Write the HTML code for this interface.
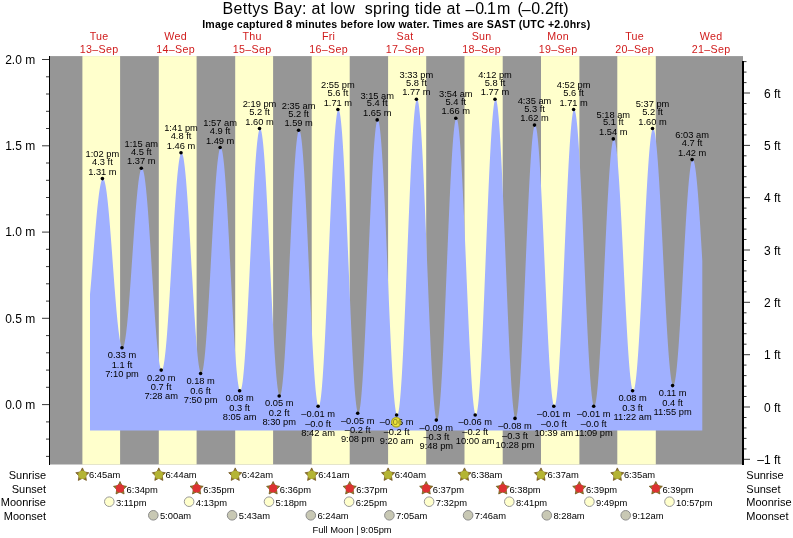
<!DOCTYPE html>
<html><head><meta charset="utf-8"><title>Bettys Bay tide times</title>
<style>html,body{margin:0;padding:0;background:#fff}svg text{white-space:pre}</style></head>
<body>
<svg width="793" height="538" viewBox="0 0 793 538" style="display:block">
<rect width="793" height="538" fill="#fff"/>
<rect x="50" y="56.1" width="693" height="408.4" fill="#969696"/>
<rect x="82.4" y="56.1" width="37.7" height="408.4" fill="#ffffcc"/>
<rect x="158.8" y="56.1" width="37.8" height="408.4" fill="#ffffcc"/>
<rect x="235.2" y="56.1" width="37.9" height="408.4" fill="#ffffcc"/>
<rect x="311.7" y="56.1" width="38.0" height="408.4" fill="#ffffcc"/>
<rect x="388.1" y="56.1" width="38.1" height="408.4" fill="#ffffcc"/>
<rect x="464.5" y="56.1" width="38.2" height="408.4" fill="#ffffcc"/>
<rect x="541.0" y="56.1" width="38.4" height="408.4" fill="#ffffcc"/>
<rect x="617.3" y="56.1" width="38.5" height="408.4" fill="#ffffcc"/>
<path d="M90.0,430.5 L90.0,294.3 90.5,288.7 91.0,282.9 91.5,276.9 92.0,270.8 92.5,264.6 93.0,258.3 93.5,252.1 94.0,245.9 94.5,239.8 95.0,233.7 95.5,227.9 96.0,222.2 96.5,216.7 97.0,211.5 97.5,206.6 98.0,202.0 98.5,197.7 99.0,193.8 99.5,190.3 100.0,187.3 100.5,184.6 101.0,182.5 101.5,180.8 102.0,179.5 102.5,178.8 103.0,178.6 103.5,178.8 104.0,179.7 104.5,181.0 105.0,182.9 105.5,185.3 106.0,188.2 106.5,191.6 107.0,195.5 107.5,199.8 108.0,204.5 108.5,209.5 109.0,215.0 109.5,220.7 110.0,226.7 110.5,233.0 111.0,239.4 111.5,246.0 112.0,252.7 112.5,259.5 113.0,266.3 113.5,273.0 114.0,279.8 114.5,286.4 115.0,292.8 115.5,299.1 116.0,305.1 116.5,310.9 117.0,316.3 117.5,321.4 118.0,326.1 118.5,330.5 119.0,334.3 119.5,337.8 120.0,340.7 120.5,343.2 121.0,345.1 121.5,346.5 122.0,347.3 122.5,347.7 123.0,347.4 123.5,346.6 124.0,345.2 124.5,343.2 125.0,340.6 125.5,337.5 126.0,333.9 126.5,329.8 127.0,325.2 127.5,320.2 128.0,314.7 128.5,308.9 129.0,302.8 129.5,296.3 130.0,289.6 130.5,282.7 131.0,275.7 131.5,268.5 132.0,261.3 132.5,254.0 133.0,246.7 133.5,239.6 134.0,232.5 134.5,225.6 135.0,219.0 135.5,212.5 136.0,206.4 136.5,200.7 137.0,195.2 137.5,190.3 138.0,185.7 138.5,181.6 139.0,178.1 139.5,175.0 140.0,172.5 140.5,170.6 141.0,169.2 141.5,168.4 142.0,168.2 142.5,168.6 143.0,169.7 143.5,171.4 144.0,173.7 144.5,176.5 145.0,180.0 145.5,184.1 146.0,188.6 146.5,193.7 147.0,199.3 147.5,205.2 148.0,211.6 148.5,218.4 149.0,225.5 149.5,232.8 150.0,240.4 150.5,248.1 151.0,256.0 151.5,264.0 152.0,272.0 152.5,280.0 153.0,287.9 153.5,295.7 154.0,303.3 154.5,310.8 155.0,317.9 155.5,324.8 156.0,331.3 156.5,337.4 157.0,343.0 157.5,348.3 158.0,353.0 158.5,357.2 159.0,360.8 159.5,363.9 160.0,366.3 160.5,368.2 161.0,369.4 161.5,370.0 162.0,370.0 162.5,369.3 163.0,367.9 163.5,365.8 164.0,363.1 164.5,359.7 165.0,355.7 165.5,351.2 166.0,346.0 166.5,340.4 167.0,334.2 167.5,327.6 168.0,320.5 168.5,313.1 169.0,305.4 169.5,297.4 170.0,289.1 170.5,280.7 171.0,272.2 171.5,263.6 172.0,255.0 172.5,246.4 173.0,237.9 173.5,229.6 174.0,221.4 174.5,213.6 175.0,206.0 175.5,198.7 176.0,191.9 176.5,185.5 177.0,179.6 177.5,174.1 178.0,169.3 178.5,165.0 179.0,161.3 179.5,158.3 180.0,155.9 180.5,154.1 181.0,153.1 181.5,152.7 182.0,153.0 182.5,154.0 183.0,155.7 183.5,158.1 184.0,161.2 184.5,165.0 185.0,169.3 185.5,174.3 186.0,179.8 186.5,185.9 187.0,192.5 187.5,199.5 188.0,206.9 188.5,214.7 189.0,222.8 189.5,231.2 190.0,239.8 190.5,248.5 191.0,257.3 191.5,266.2 192.1,275.0 192.6,283.7 193.1,292.4 193.6,300.8 194.1,309.0 194.6,316.9 195.1,324.4 195.6,331.6 196.1,338.3 196.6,344.6 197.1,350.3 197.6,355.4 198.1,360.0 198.6,363.9 199.1,367.2 199.6,369.8 200.1,371.8 200.6,373.0 201.1,373.5 201.6,373.3 202.1,372.4 202.6,370.8 203.1,368.4 203.6,365.4 204.1,361.6 204.6,357.2 205.1,352.2 205.6,346.6 206.1,340.4 206.6,333.7 207.1,326.5 207.6,318.9 208.1,310.9 208.6,302.6 209.1,294.0 209.6,285.2 210.1,276.3 210.6,267.2 211.1,258.1 211.6,249.0 212.1,240.0 212.6,231.1 213.1,222.4 213.6,214.0 214.1,205.8 214.6,198.1 215.1,190.7 215.6,183.8 216.1,177.3 216.6,171.4 217.1,166.1 217.6,161.4 218.1,157.4 218.6,154.0 219.1,151.3 219.6,149.3 220.1,148.0 220.6,147.5 221.1,147.7 221.6,148.7 222.1,150.5 222.6,153.1 223.1,156.4 223.6,160.4 224.1,165.1 224.6,170.5 225.1,176.5 225.6,183.2 226.1,190.4 226.6,198.1 227.1,206.2 227.6,214.8 228.1,223.7 228.6,232.9 229.1,242.3 229.6,252.0 230.1,261.7 230.6,271.5 231.1,281.2 231.6,290.9 232.1,300.4 232.6,309.8 233.1,318.9 233.6,327.6 234.1,336.0 234.6,343.9 235.1,351.4 235.6,358.3 236.1,364.7 236.6,370.4 237.1,375.5 237.6,379.9 238.1,383.6 238.6,386.5 239.1,388.7 239.6,390.1 240.1,390.8 240.6,390.6 241.1,389.6 241.6,387.8 242.1,385.2 242.6,381.9 243.1,377.7 243.6,372.8 244.1,367.2 244.6,361.0 245.1,354.1 245.6,346.6 246.1,338.6 246.6,330.0 247.1,321.1 247.6,311.7 248.1,302.1 248.6,292.1 249.1,282.0 249.6,271.7 250.1,261.3 250.6,251.0 251.1,240.7 251.6,230.5 252.1,220.5 252.6,210.7 253.1,201.2 253.6,192.1 254.1,183.5 254.6,175.3 255.1,167.6 255.6,160.5 256.1,154.0 256.6,148.2 257.1,143.1 257.6,138.7 258.1,135.1 258.6,132.2 259.1,130.2 259.6,128.9 260.1,128.5 260.6,128.9 261.1,130.2 261.6,132.3 262.1,135.2 262.6,138.9 263.1,143.4 263.6,148.7 264.1,154.7 264.6,161.3 265.1,168.7 265.6,176.6 266.1,185.0 266.6,194.0 267.1,203.3 267.6,213.1 268.1,223.1 268.6,233.5 269.1,243.9 269.6,254.6 270.1,265.2 270.6,275.9 271.1,286.4 271.6,296.8 272.1,307.0 272.6,316.9 273.1,326.4 273.6,335.6 274.1,344.2 274.6,352.4 275.1,360.0 275.6,366.9 276.1,373.2 276.6,378.8 277.1,383.7 277.6,387.7 278.1,391.0 278.6,393.5 279.1,395.1 279.6,395.9 280.1,395.8 280.6,394.9 281.1,393.1 281.6,390.4 282.1,386.9 282.6,382.6 283.1,377.5 283.6,371.7 284.1,365.1 284.6,357.9 285.1,350.1 285.6,341.6 286.1,332.7 286.6,323.3 287.1,313.5 287.6,303.4 288.1,293.0 288.6,282.5 289.1,271.7 289.6,261.0 290.1,250.2 290.6,239.6 291.1,229.1 291.6,218.8 292.1,208.8 292.6,199.1 293.1,189.9 293.6,181.2 294.1,173.0 294.6,165.4 295.1,158.4 295.6,152.1 296.1,146.6 296.6,141.8 297.1,137.8 297.6,134.6 298.1,132.3 298.6,130.9 299.1,130.3 299.6,130.5 300.1,131.7 300.6,133.8 301.1,136.7 301.6,140.5 302.1,145.1 302.6,150.6 303.1,156.7 303.6,163.7 304.1,171.2 304.6,179.5 305.1,188.3 305.6,197.6 306.1,207.4 306.6,217.5 307.1,228.0 307.6,238.8 308.1,249.7 308.6,260.8 309.1,271.9 309.6,283.0 310.1,294.0 310.6,304.9 311.1,315.5 311.6,325.8 312.1,335.7 312.6,345.2 313.1,354.2 313.6,362.6 314.1,370.4 314.6,377.5 315.1,384.0 315.6,389.7 316.1,394.6 316.6,398.6 317.1,401.9 317.6,404.2 318.1,405.7 318.6,406.3 319.1,406.0 319.6,404.7 320.1,402.6 320.6,399.5 321.1,395.5 321.6,390.7 322.1,385.0 322.6,378.5 323.1,371.3 323.6,363.4 324.1,354.8 324.6,345.6 325.1,335.8 325.6,325.5 326.1,314.9 326.6,303.8 327.1,292.5 327.6,281.0 328.1,269.3 328.6,257.5 329.1,245.8 329.6,234.1 330.1,222.5 330.6,211.2 331.1,200.2 331.6,189.6 332.1,179.4 332.6,169.6 333.1,160.5 333.6,151.9 334.1,144.0 334.6,136.8 335.1,130.4 335.6,124.8 336.1,120.0 336.6,116.1 337.1,113.1 337.6,111.0 338.1,109.8 338.6,109.6 339.1,110.3 339.6,111.9 340.1,114.5 340.6,118.0 341.1,122.4 341.6,127.7 342.1,133.8 342.6,140.8 343.1,148.4 343.6,156.8 344.1,165.9 344.6,175.5 345.1,185.7 345.6,196.4 346.1,207.5 346.6,218.9 347.1,230.6 347.6,242.5 348.1,254.4 348.6,266.5 349.1,278.5 349.6,290.4 350.1,302.1 350.6,313.6 351.1,324.7 351.6,335.4 352.1,345.7 352.6,355.4 353.1,364.6 353.6,373.1 354.1,380.9 354.6,387.9 355.1,394.2 355.6,399.6 356.1,404.1 356.6,407.8 357.1,410.5 357.6,412.3 358.1,413.2 358.6,413.0 359.1,412.0 359.6,410.0 360.1,407.0 360.6,403.2 361.1,398.4 361.6,392.8 362.1,386.4 362.6,379.2 363.1,371.3 363.6,362.7 364.1,353.5 364.6,343.7 365.1,333.4 365.6,322.7 366.1,311.6 366.6,300.2 367.1,288.6 367.6,276.8 368.1,265.0 368.6,253.2 369.1,241.5 369.6,229.9 370.1,218.6 370.6,207.6 371.1,197.0 371.6,186.8 372.1,177.2 372.6,168.1 373.1,159.7 373.6,151.9 374.1,144.9 374.6,138.7 375.1,133.4 375.6,128.8 376.1,125.2 376.6,122.5 377.1,120.8 377.6,120.0 378.1,120.1 378.6,121.2 379.1,123.3 379.6,126.3 380.1,130.2 380.6,135.1 381.1,140.8 381.6,147.3 382.1,154.6 382.6,162.7 383.1,171.5 383.6,180.8 384.1,190.8 384.6,201.3 385.1,212.2 385.6,223.4 386.1,235.0 386.6,246.7 387.1,258.6 387.6,270.6 388.1,282.5 388.6,294.3 389.1,306.0 389.6,317.4 390.1,328.5 390.6,339.1 391.1,349.3 391.6,359.0 392.1,368.1 392.6,376.5 393.1,384.1 393.6,391.1 394.1,397.2 394.6,402.4 395.1,406.8 395.6,410.3 396.1,412.8 396.7,414.3 397.2,414.9 397.7,414.6 398.2,413.2 398.7,410.8 399.2,407.5 399.7,403.3 400.2,398.1 400.7,392.0 401.2,385.1 401.7,377.4 402.2,368.9 402.7,359.7 403.2,349.9 403.7,339.5 404.2,328.6 404.7,317.2 405.2,305.4 405.7,293.4 406.2,281.1 406.7,268.6 407.2,256.1 407.7,243.6 408.2,231.2 408.7,218.9 409.2,206.9 409.7,195.2 410.2,183.9 410.7,173.1 411.2,162.7 411.7,153.0 412.2,143.9 412.7,135.5 413.2,127.9 413.7,121.2 414.2,115.2 414.7,110.2 415.2,106.0 415.7,102.9 416.2,100.7 416.7,99.5 417.2,99.2 417.7,100.0 418.2,101.8 418.7,104.5 419.2,108.2 419.7,112.9 420.2,118.4 420.7,124.9 421.2,132.1 421.7,140.2 422.2,149.0 422.7,158.5 423.2,168.7 423.7,179.4 424.2,190.6 424.7,202.2 425.2,214.2 425.7,226.4 426.2,238.9 426.7,251.5 427.2,264.2 427.7,276.8 428.2,289.3 428.7,301.7 429.2,313.7 429.7,325.5 430.2,336.8 430.7,347.7 431.2,358.0 431.7,367.6 432.2,376.7 432.7,385.0 433.2,392.5 433.7,399.1 434.2,405.0 434.7,409.9 435.2,413.9 435.7,416.9 436.2,418.9 436.7,420.0 437.2,420.0 437.7,419.1 438.2,417.2 438.7,414.3 439.2,410.5 439.7,405.7 440.2,400.1 440.7,393.6 441.2,386.3 441.7,378.2 442.2,369.4 442.7,360.0 443.2,350.0 443.7,339.4 444.2,328.4 444.7,317.0 445.2,305.3 445.7,293.3 446.2,281.2 446.7,269.0 447.2,256.8 447.7,244.7 448.2,232.8 448.7,221.1 449.2,209.7 449.7,198.6 450.2,188.1 450.7,178.1 451.2,168.7 451.7,159.9 452.2,151.8 452.7,144.5 453.2,138.1 453.7,132.4 454.2,127.7 454.7,123.9 455.2,121.1 455.7,119.2 456.2,118.3 456.7,118.3 457.2,119.4 457.7,121.4 458.2,124.3 458.7,128.2 459.2,133.0 459.7,138.6 460.2,145.1 460.7,152.4 461.2,160.4 461.7,169.2 462.2,178.5 462.7,188.5 463.2,198.9 463.7,209.8 464.2,221.0 464.7,232.6 465.2,244.4 465.7,256.3 466.2,268.3 466.7,280.2 467.2,292.1 467.7,303.8 468.2,315.3 468.7,326.5 469.2,337.2 469.7,347.5 470.2,357.3 470.7,366.5 471.2,375.0 471.7,382.9 472.2,389.9 472.7,396.2 473.2,401.6 473.7,406.1 474.2,409.7 474.7,412.4 475.2,414.1 475.7,414.9 476.2,414.7 476.7,413.5 477.2,411.3 477.7,408.1 478.2,404.0 478.7,399.0 479.2,393.0 479.7,386.2 480.2,378.6 480.7,370.2 481.2,361.1 481.7,351.3 482.2,341.0 482.7,330.1 483.2,318.7 483.7,307.0 484.2,294.9 484.7,282.6 485.2,270.2 485.7,257.6 486.2,245.1 486.7,232.6 487.2,220.3 487.7,208.2 488.2,196.5 488.7,185.1 489.2,174.1 489.7,163.7 490.2,153.9 490.7,144.7 491.2,136.3 491.7,128.6 492.2,121.7 492.7,115.7 493.2,110.5 493.7,106.3 494.2,103.1 494.7,100.8 495.2,99.5 495.7,99.2 496.2,99.9 496.7,101.6 497.2,104.2 497.7,107.8 498.2,112.4 498.7,117.8 499.2,124.1 499.7,131.3 500.2,139.2 500.7,147.9 501.2,157.3 501.7,167.3 502.2,177.8 502.7,188.9 503.2,200.4 503.7,212.2 504.2,224.4 504.7,236.7 505.2,249.2 505.7,261.8 506.2,274.3 506.7,286.7 507.2,299.0 507.7,311.0 508.2,322.7 508.7,334.0 509.2,344.8 509.7,355.1 510.2,364.8 510.7,373.9 511.2,382.2 511.7,389.8 512.2,396.6 512.7,402.5 513.2,407.5 513.7,411.6 514.2,414.7 514.7,416.9 515.2,418.1 515.7,418.4 516.2,417.6 516.7,416.0 517.2,413.3 517.7,409.8 518.2,405.4 518.7,400.1 519.2,393.9 519.7,387.0 520.2,379.3 520.7,370.9 521.2,361.9 521.7,352.3 522.2,342.2 522.7,331.6 523.2,320.6 523.7,309.3 524.2,297.8 524.7,286.1 525.2,274.3 525.7,262.5 526.2,250.7 526.7,239.1 527.2,227.7 527.7,216.6 528.2,205.8 528.7,195.5 529.2,185.6 529.7,176.3 530.2,167.7 530.7,159.7 531.2,152.4 531.7,146.0 532.2,140.3 532.7,135.5 533.2,131.6 533.7,128.5 534.2,126.4 534.7,125.3 535.2,125.1 535.7,125.8 536.2,127.5 536.7,130.1 537.2,133.6 537.7,137.9 538.2,143.1 538.7,149.1 539.2,155.8 539.7,163.3 540.2,171.5 540.7,180.3 541.2,189.6 541.7,199.5 542.2,209.8 542.7,220.5 543.2,231.4 543.7,242.6 544.2,253.9 544.7,265.3 545.2,276.8 545.7,288.1 546.2,299.3 546.7,310.3 547.2,321.0 547.7,331.3 548.2,341.2 548.7,350.5 549.2,359.4 549.7,367.6 550.2,375.1 550.7,381.9 551.2,388.0 551.7,393.2 552.2,397.6 552.7,401.1 553.2,403.7 553.7,405.5 554.2,406.3 554.7,406.1 555.2,405.1 555.7,403.1 556.2,400.2 556.7,396.4 557.2,391.7 557.7,386.2 558.2,379.9 558.7,372.8 559.2,365.0 559.7,356.5 560.2,347.4 560.7,337.8 561.2,327.6 561.7,317.0 562.2,306.1 562.7,294.8 563.2,283.3 563.7,271.6 564.2,259.9 564.7,248.1 565.2,236.4 565.7,224.8 566.2,213.5 566.7,202.4 567.2,191.7 567.7,181.4 568.2,171.5 568.7,162.3 569.2,153.6 569.7,145.5 570.2,138.2 570.7,131.6 571.2,125.9 571.7,120.9 572.2,116.8 572.7,113.6 573.2,111.3 573.7,110.0 574.2,109.5 574.7,110.0 575.2,111.4 575.7,113.7 576.2,116.9 576.7,120.9 577.2,125.8 577.7,131.5 578.2,138.0 578.7,145.3 579.2,153.2 579.7,161.7 580.2,170.9 580.7,180.6 581.2,190.7 581.7,201.3 582.2,212.2 582.7,223.4 583.2,234.9 583.7,246.4 584.2,258.1 584.7,269.7 585.2,281.3 585.7,292.7 586.2,303.9 586.7,314.8 587.2,325.4 587.7,335.5 588.2,345.2 588.7,354.3 589.2,362.9 589.7,370.8 590.2,378.0 590.7,384.5 591.2,390.1 591.7,395.0 592.2,399.1 592.7,402.2 593.2,404.5 593.7,405.9 594.2,406.3 594.7,405.9 595.2,404.6 595.7,402.5 596.2,399.5 596.7,395.8 597.2,391.2 597.7,385.9 598.2,379.8 598.7,373.1 599.2,365.7 599.7,357.7 600.2,349.1 600.8,340.1 601.3,330.6 601.8,320.8 602.3,310.7 602.8,300.3 603.3,289.7 603.8,279.0 604.3,268.3 604.8,257.6 605.3,247.0 605.8,236.6 606.3,226.4 606.8,216.5 607.3,207.0 607.8,197.8 608.3,189.2 608.8,181.1 609.3,173.6 609.8,166.7 610.3,160.5 610.8,155.0 611.3,150.3 611.8,146.4 612.3,143.2 612.8,140.9 613.3,139.5 613.8,138.9 614.3,139.1 614.8,140.2 615.3,142.1 615.8,144.9 616.3,148.4 616.8,152.6 617.3,157.7 617.8,163.4 618.3,169.8 618.8,176.8 619.3,184.4 619.8,192.5 620.3,201.2 620.8,210.2 621.3,219.6 621.8,229.3 622.3,239.2 622.8,249.3 623.3,259.5 623.8,269.7 624.3,279.9 624.8,290.0 625.3,300.0 625.8,309.7 626.3,319.1 626.8,328.1 627.3,336.8 627.8,344.9 628.3,352.5 628.8,359.6 629.3,366.0 629.8,371.8 630.3,376.8 630.8,381.1 631.3,384.7 631.8,387.4 632.3,389.4 632.8,390.5 633.3,390.8 633.8,390.3 634.3,388.9 634.8,386.8 635.3,383.8 635.8,380.1 636.3,375.7 636.8,370.5 637.3,364.6 637.8,358.1 638.3,351.0 638.8,343.3 639.3,335.0 639.8,326.3 640.3,317.2 640.8,307.8 641.3,298.0 641.8,288.0 642.3,277.8 642.8,267.5 643.3,257.2 643.8,246.9 644.3,236.6 644.8,226.5 645.3,216.6 645.8,207.0 646.3,197.7 646.8,188.8 647.3,180.3 647.8,172.3 648.3,164.9 648.8,158.0 649.3,151.8 649.8,146.3 650.3,141.4 650.8,137.3 651.3,134.0 651.8,131.4 652.3,129.7 652.8,128.7 653.3,128.6 653.8,129.2 654.3,130.6 654.8,132.8 655.3,135.8 655.8,139.5 656.3,144.0 656.8,149.1 657.3,154.9 657.8,161.3 658.3,168.3 658.8,175.8 659.3,183.8 659.8,192.3 660.3,201.2 660.8,210.4 661.3,219.9 661.8,229.7 662.3,239.6 662.8,249.6 663.3,259.6 663.8,269.7 664.3,279.6 664.8,289.5 665.3,299.1 665.8,308.5 666.3,317.5 666.8,326.2 667.3,334.5 667.8,342.2 668.3,349.5 668.8,356.2 669.3,362.3 669.8,367.8 670.3,372.5 670.8,376.6 671.3,379.9 671.8,382.5 672.3,384.3 672.8,385.4 673.3,385.6 673.8,385.1 674.3,383.9 674.8,381.9 675.3,379.3 675.8,376.0 676.3,371.9 676.8,367.3 677.3,362.0 677.8,356.2 678.3,349.8 678.8,342.9 679.3,335.6 679.8,327.9 680.3,319.8 680.8,311.4 681.3,302.7 681.8,293.9 682.3,284.9 682.8,275.8 683.3,266.8 683.8,257.7 684.3,248.8 684.8,240.0 685.3,231.4 685.8,223.1 686.3,215.1 686.8,207.5 687.3,200.2 687.8,193.5 688.3,187.3 688.8,181.6 689.3,176.5 689.8,172.0 690.3,168.2 690.8,165.1 691.3,162.6 691.8,160.9 692.3,159.9 692.8,159.6 693.3,160.0 693.8,161.1 694.3,162.8 694.8,165.2 695.3,168.2 695.8,171.8 696.3,176.1 696.8,180.9 697.3,186.2 697.8,192.1 698.3,198.4 698.8,205.2 699.3,212.3 699.8,219.8 700.3,227.6 700.8,235.7 701.3,243.9 701.8,252.3 702.3,260.8 L702.3,430.5 Z" fill="#a0b0ff"/>
<g stroke="#000" stroke-width="1" fill="none" shape-rendering="crispEdges">
<line x1="49.5" y1="56.1" x2="49.5" y2="464.5" stroke-width="1.4"/>
<line x1="743" y1="61" x2="743" y2="464.5" stroke-width="2"/>
</g>
<g stroke="#222" stroke-width="0.9" fill="none">
<line x1="46.0" y1="456.4" x2="49" y2="456.4"/>
<line x1="46.0" y1="439.1" x2="49" y2="439.1"/>
<line x1="46.0" y1="421.9" x2="49" y2="421.9"/>
<line x1="42.0" y1="404.6" x2="49" y2="404.6"/>
<line x1="46.0" y1="387.3" x2="49" y2="387.3"/>
<line x1="46.0" y1="370.1" x2="49" y2="370.1"/>
<line x1="46.0" y1="352.8" x2="49" y2="352.8"/>
<line x1="46.0" y1="335.6" x2="49" y2="335.6"/>
<line x1="42.0" y1="318.3" x2="49" y2="318.3"/>
<line x1="46.0" y1="301.1" x2="49" y2="301.1"/>
<line x1="46.0" y1="283.8" x2="49" y2="283.8"/>
<line x1="46.0" y1="266.6" x2="49" y2="266.6"/>
<line x1="46.0" y1="249.3" x2="49" y2="249.3"/>
<line x1="42.0" y1="232.1" x2="49" y2="232.1"/>
<line x1="46.0" y1="214.8" x2="49" y2="214.8"/>
<line x1="46.0" y1="197.5" x2="49" y2="197.5"/>
<line x1="46.0" y1="180.3" x2="49" y2="180.3"/>
<line x1="46.0" y1="163.0" x2="49" y2="163.0"/>
<line x1="42.0" y1="145.8" x2="49" y2="145.8"/>
<line x1="46.0" y1="128.5" x2="49" y2="128.5"/>
<line x1="46.0" y1="111.3" x2="49" y2="111.3"/>
<line x1="46.0" y1="94.0" x2="49" y2="94.0"/>
<line x1="46.0" y1="76.8" x2="49" y2="76.8"/>
<line x1="42.0" y1="59.5" x2="49" y2="59.5"/>
<line x1="744" y1="459.3" x2="750.0" y2="459.3"/>
<line x1="744" y1="448.9" x2="746.5" y2="448.9"/>
<line x1="744" y1="438.4" x2="746.5" y2="438.4"/>
<line x1="744" y1="427.9" x2="746.5" y2="427.9"/>
<line x1="744" y1="417.5" x2="746.5" y2="417.5"/>
<line x1="744" y1="407.0" x2="750.0" y2="407.0"/>
<line x1="744" y1="396.5" x2="746.5" y2="396.5"/>
<line x1="744" y1="386.1" x2="746.5" y2="386.1"/>
<line x1="744" y1="375.6" x2="746.5" y2="375.6"/>
<line x1="744" y1="365.1" x2="746.5" y2="365.1"/>
<line x1="744" y1="354.7" x2="750.0" y2="354.7"/>
<line x1="744" y1="344.2" x2="746.5" y2="344.2"/>
<line x1="744" y1="333.7" x2="746.5" y2="333.7"/>
<line x1="744" y1="323.3" x2="746.5" y2="323.3"/>
<line x1="744" y1="312.8" x2="746.5" y2="312.8"/>
<line x1="744" y1="302.3" x2="750.0" y2="302.3"/>
<line x1="744" y1="291.9" x2="746.5" y2="291.9"/>
<line x1="744" y1="281.4" x2="746.5" y2="281.4"/>
<line x1="744" y1="270.9" x2="746.5" y2="270.9"/>
<line x1="744" y1="260.5" x2="746.5" y2="260.5"/>
<line x1="744" y1="250.0" x2="750.0" y2="250.0"/>
<line x1="744" y1="239.5" x2="746.5" y2="239.5"/>
<line x1="744" y1="229.1" x2="746.5" y2="229.1"/>
<line x1="744" y1="218.6" x2="746.5" y2="218.6"/>
<line x1="744" y1="208.1" x2="746.5" y2="208.1"/>
<line x1="744" y1="197.7" x2="750.0" y2="197.7"/>
<line x1="744" y1="187.2" x2="746.5" y2="187.2"/>
<line x1="744" y1="176.7" x2="746.5" y2="176.7"/>
<line x1="744" y1="166.3" x2="746.5" y2="166.3"/>
<line x1="744" y1="155.8" x2="746.5" y2="155.8"/>
<line x1="744" y1="145.4" x2="750.0" y2="145.4"/>
<line x1="744" y1="134.9" x2="746.5" y2="134.9"/>
<line x1="744" y1="124.4" x2="746.5" y2="124.4"/>
<line x1="744" y1="114.0" x2="746.5" y2="114.0"/>
<line x1="744" y1="103.5" x2="746.5" y2="103.5"/>
<line x1="744" y1="93.0" x2="750.0" y2="93.0"/>
<line x1="744" y1="82.6" x2="746.5" y2="82.6"/>
<line x1="744" y1="72.1" x2="746.5" y2="72.1"/>
<line x1="744" y1="61.6" x2="746.5" y2="61.6"/>
</g>
<g font-family="'Liberation Sans', sans-serif" font-size="12" fill="#000" text-anchor="end">
<text x="35.2" y="408.9">0.0 m</text>
<text x="35.2" y="322.6">0.5 m</text>
<text x="35.2" y="236.4">1.0 m</text>
<text x="35.2" y="150.1">1.5 m</text>
<text x="35.2" y="63.8">2.0 m</text>
</g>
<g font-family="'Liberation Sans', sans-serif" font-size="12" fill="#000" text-anchor="end">
<text x="780.7" y="464.0">–1 ft</text>
<text x="780.7" y="411.7">0 ft</text>
<text x="780.7" y="359.4">1 ft</text>
<text x="780.7" y="307.0">2 ft</text>
<text x="780.7" y="254.7">3 ft</text>
<text x="780.7" y="202.4">4 ft</text>
<text x="780.7" y="150.1">5 ft</text>
<text x="780.7" y="97.7">6 ft</text>
</g>
<g font-family="'Liberation Sans', sans-serif" font-size="16" fill="#000" lengthAdjust="spacing">
<text x="222.6" y="13.5" textLength="237.6" xml:space="preserve">Bettys Bay: at low  spring tide at</text>
<text x="465.5" y="14.8">–</text><text x="475.2" y="13.5" textLength="20.6">0.1</text>
<text x="496.9" y="13.5">m</text>
<text x="517.4" y="13.5">(</text><text x="521.7" y="14.8">–</text><text x="531.3" y="13.5" textLength="37.3">0.2ft)</text>
</g>
<text x="202.2" y="27.5" font-family="'Liberation Sans', sans-serif" font-size="10.6" font-weight="bold" fill="#000" textLength="388" lengthAdjust="spacing">Image captured 8 minutes before low water. Times are SAST (UTC +2.0hrs)</text>
<g font-family="'Liberation Sans', sans-serif" font-size="10.7" fill="#d01c1c" text-anchor="middle" letter-spacing="0.3">
<text x="99.1" y="39.6">Tue</text>
<text x="99.1" y="53.3">13–Sep</text>
<text x="175.6" y="39.6">Wed</text>
<text x="175.6" y="53.3">14–Sep</text>
<text x="252.1" y="39.6">Thu</text>
<text x="252.1" y="53.3">15–Sep</text>
<text x="328.6" y="39.6">Fri</text>
<text x="328.6" y="53.3">16–Sep</text>
<text x="405.1" y="39.6">Sat</text>
<text x="405.1" y="53.3">17–Sep</text>
<text x="481.6" y="39.6">Sun</text>
<text x="481.6" y="53.3">18–Sep</text>
<text x="558.1" y="39.6">Mon</text>
<text x="558.1" y="53.3">19–Sep</text>
<text x="634.6" y="39.6">Tue</text>
<text x="634.6" y="53.3">20–Sep</text>
<text x="711.1" y="39.6">Wed</text>
<text x="711.1" y="53.3">21–Sep</text>
</g>
<circle cx="396.3" cy="422.2" r="4.6" fill="#ece43c" stroke="#a8a424" stroke-width="1.2"/>
<g font-family="'Liberation Sans', sans-serif" font-size="9.3" fill="#000" text-anchor="middle">
<text x="102.4" y="174.6">1.31 m</text>
<text x="102.4" y="165.0">4.3 ft</text>
<text x="102.4" y="157.2">1:02 pm</text>
<text x="122.0" y="358.1">0.33 m</text>
<text x="122.0" y="367.9">1.1 ft</text>
<text x="122.0" y="376.9">7:10 pm</text>
<text x="141.3" y="164.2">1.37 m</text>
<text x="141.3" y="154.6">4.5 ft</text>
<text x="141.3" y="146.8">1:15 am</text>
<text x="161.2" y="380.5">0.20 m</text>
<text x="161.2" y="390.3">0.7 ft</text>
<text x="161.2" y="399.3">7:28 am</text>
<text x="181.0" y="148.7">1.46 m</text>
<text x="181.0" y="139.1">4.8 ft</text>
<text x="181.0" y="131.3">1:41 pm</text>
<text x="200.6" y="383.9">0.18 m</text>
<text x="200.6" y="393.7">0.6 ft</text>
<text x="200.6" y="402.7">7:50 pm</text>
<text x="220.1" y="143.5">1.49 m</text>
<text x="220.1" y="133.9">4.9 ft</text>
<text x="220.1" y="126.1">1:57 am</text>
<text x="239.6" y="401.2">0.08 m</text>
<text x="239.6" y="411.0">0.3 ft</text>
<text x="239.6" y="420.0">8:05 am</text>
<text x="259.5" y="124.5">1.60 m</text>
<text x="259.5" y="114.9">5.2 ft</text>
<text x="259.5" y="107.1">2:19 pm</text>
<text x="279.2" y="406.4">0.05 m</text>
<text x="279.2" y="416.2">0.2 ft</text>
<text x="279.2" y="425.2">8:30 pm</text>
<text x="298.6" y="126.2">1.59 m</text>
<text x="298.6" y="116.6">5.2 ft</text>
<text x="298.6" y="108.8">2:35 am</text>
<text x="318.1" y="416.7">–0.01 m</text>
<text x="318.1" y="426.5">–0.0 ft</text>
<text x="318.1" y="435.5">8:42 am</text>
<text x="337.9" y="105.5">1.71 m</text>
<text x="337.9" y="95.9">5.6 ft</text>
<text x="337.9" y="88.1">2:55 pm</text>
<text x="357.7" y="423.6">–0.05 m</text>
<text x="357.7" y="433.4">–0.2 ft</text>
<text x="357.7" y="442.4">9:08 pm</text>
<text x="377.2" y="115.9">1.65 m</text>
<text x="377.2" y="106.3">5.4 ft</text>
<text x="377.2" y="98.5">3:15 am</text>
<text x="396.6" y="425.4">–0.06 m</text>
<text x="396.6" y="435.2">–0.2 ft</text>
<text x="396.6" y="444.2">9:20 am</text>
<text x="416.4" y="95.2">1.77 m</text>
<text x="416.4" y="85.6">5.8 ft</text>
<text x="416.4" y="77.8">3:33 pm</text>
<text x="436.3" y="430.5">–0.09 m</text>
<text x="436.3" y="440.3">–0.3 ft</text>
<text x="436.3" y="449.3">9:48 pm</text>
<text x="455.8" y="114.2">1.66 m</text>
<text x="455.8" y="104.6">5.4 ft</text>
<text x="455.8" y="96.8">3:54 am</text>
<text x="475.2" y="425.4">–0.06 m</text>
<text x="475.2" y="435.2">–0.2 ft</text>
<text x="475.2" y="444.2">10:00 am</text>
<text x="495.0" y="95.2">1.77 m</text>
<text x="495.0" y="85.6">5.8 ft</text>
<text x="495.0" y="77.8">4:12 pm</text>
<text x="515.0" y="428.8">–0.08 m</text>
<text x="515.0" y="438.6">–0.3 ft</text>
<text x="515.0" y="447.6">10:28 pm</text>
<text x="534.5" y="121.1">1.62 m</text>
<text x="534.5" y="111.5">5.3 ft</text>
<text x="534.5" y="103.7">4:35 am</text>
<text x="553.8" y="416.7">–0.01 m</text>
<text x="553.8" y="426.5">–0.0 ft</text>
<text x="553.8" y="435.5">10:39 am</text>
<text x="573.6" y="105.5">1.71 m</text>
<text x="573.6" y="95.9">5.6 ft</text>
<text x="573.6" y="88.1">4:52 pm</text>
<text x="593.7" y="416.7">–0.01 m</text>
<text x="593.7" y="426.5">–0.0 ft</text>
<text x="593.7" y="435.5">11:09 pm</text>
<text x="613.3" y="134.9">1.54 m</text>
<text x="613.3" y="125.3">5.1 ft</text>
<text x="613.3" y="117.5">5:18 am</text>
<text x="632.6" y="401.2">0.08 m</text>
<text x="632.6" y="411.0">0.3 ft</text>
<text x="632.6" y="420.0">11:22 am</text>
<text x="652.5" y="124.5">1.60 m</text>
<text x="652.5" y="114.9">5.2 ft</text>
<text x="652.5" y="107.1">5:37 pm</text>
<text x="672.6" y="396.0">0.11 m</text>
<text x="672.6" y="405.8">0.4 ft</text>
<text x="672.6" y="414.8">11:55 pm</text>
<text x="692.1" y="155.6">1.42 m</text>
<text x="692.1" y="146.0">4.7 ft</text>
<text x="692.1" y="138.2">6:03 am</text>
</g>
<circle cx="396.3" cy="422.2" r="4.6" fill="#ece43c" fill-opacity="0.55" stroke="#a8a424" stroke-opacity="0.55" stroke-width="1.2"/>
<g fill="#000">
<circle cx="102.4" cy="178.6" r="1.8"/>
<circle cx="122.0" cy="347.7" r="1.8"/>
<circle cx="141.3" cy="168.2" r="1.8"/>
<circle cx="161.2" cy="370.1" r="1.8"/>
<circle cx="181.0" cy="152.7" r="1.8"/>
<circle cx="200.6" cy="373.5" r="1.8"/>
<circle cx="220.1" cy="147.5" r="1.8"/>
<circle cx="239.6" cy="390.8" r="1.8"/>
<circle cx="259.5" cy="128.5" r="1.8"/>
<circle cx="279.2" cy="396.0" r="1.8"/>
<circle cx="298.6" cy="130.2" r="1.8"/>
<circle cx="318.1" cy="406.3" r="1.8"/>
<circle cx="337.9" cy="109.5" r="1.8"/>
<circle cx="357.7" cy="413.2" r="1.8"/>
<circle cx="377.2" cy="119.9" r="1.8"/>
<circle cx="396.6" cy="415.0" r="1.8"/>
<circle cx="416.4" cy="99.2" r="1.8"/>
<circle cx="436.3" cy="420.1" r="1.8"/>
<circle cx="455.8" cy="118.2" r="1.8"/>
<circle cx="475.2" cy="415.0" r="1.8"/>
<circle cx="495.0" cy="99.2" r="1.8"/>
<circle cx="515.0" cy="418.4" r="1.8"/>
<circle cx="534.5" cy="125.1" r="1.8"/>
<circle cx="553.8" cy="406.3" r="1.8"/>
<circle cx="573.6" cy="109.5" r="1.8"/>
<circle cx="593.7" cy="406.3" r="1.8"/>
<circle cx="613.3" cy="138.9" r="1.8"/>
<circle cx="632.6" cy="390.8" r="1.8"/>
<circle cx="652.5" cy="128.5" r="1.8"/>
<circle cx="672.6" cy="385.6" r="1.8"/>
<circle cx="692.1" cy="159.6" r="1.8"/>
</g>
<g font-family="'Liberation Sans', sans-serif" font-size="11" fill="#000">
<text x="46" y="478.9" text-anchor="end">Sunrise</text>
<text x="746.3" y="478.6">Sunrise</text>
<text x="46" y="492.8" text-anchor="end">Sunset</text>
<text x="746.3" y="492.5">Sunset</text>
<text x="46" y="506.2" text-anchor="end">Moonrise</text>
<text x="746.3" y="505.9">Moonrise</text>
<text x="46" y="519.8" text-anchor="end">Moonset</text>
<text x="746.3" y="519.5">Moonset</text>
</g>
<g font-family="'Liberation Sans', sans-serif" font-size="9.4" fill="#000">
<polygon points="82.4,467.9 84.4,472.0 88.9,472.7 85.7,475.9 86.4,480.4 82.4,478.3 78.3,480.4 79.0,475.9 75.8,472.7 80.3,472.0" fill="#94842c" stroke="#6a4a14" stroke-width="0.7" stroke-linejoin="miter"/><circle cx="82.4" cy="474.8" r="4.1" fill="#b4b434"/>
<text x="89.0" y="477.6">6:45am</text>
<polygon points="158.8,467.9 160.9,472.0 165.4,472.7 162.2,475.9 162.9,480.4 158.8,478.3 154.8,480.4 155.5,475.9 152.3,472.7 156.8,472.0" fill="#94842c" stroke="#6a4a14" stroke-width="0.7" stroke-linejoin="miter"/><circle cx="158.8" cy="474.8" r="4.1" fill="#b4b434"/>
<text x="165.4" y="477.6">6:44am</text>
<polygon points="235.2,467.9 237.3,472.0 241.8,472.7 238.5,475.9 239.3,480.4 235.2,478.3 231.2,480.4 231.9,475.9 228.7,472.7 233.2,472.0" fill="#94842c" stroke="#6a4a14" stroke-width="0.7" stroke-linejoin="miter"/><circle cx="235.2" cy="474.8" r="4.1" fill="#b4b434"/>
<text x="241.8" y="477.6">6:42am</text>
<polygon points="311.7,467.9 313.7,472.0 318.2,472.7 315.0,475.9 315.7,480.4 311.7,478.3 307.6,480.4 308.3,475.9 305.1,472.7 309.6,472.0" fill="#94842c" stroke="#6a4a14" stroke-width="0.7" stroke-linejoin="miter"/><circle cx="311.7" cy="474.8" r="4.1" fill="#b4b434"/>
<text x="318.3" y="477.6">6:41am</text>
<polygon points="388.1,467.9 390.2,472.0 394.7,472.7 391.4,475.9 392.2,480.4 388.1,478.3 384.1,480.4 384.8,475.9 381.5,472.7 386.1,472.0" fill="#94842c" stroke="#6a4a14" stroke-width="0.7" stroke-linejoin="miter"/><circle cx="388.1" cy="474.8" r="4.1" fill="#b4b434"/>
<text x="394.7" y="477.6">6:40am</text>
<polygon points="464.5,467.9 466.6,472.0 471.1,472.7 467.8,475.9 468.6,480.4 464.5,478.3 460.4,480.4 461.2,475.9 457.9,472.7 462.4,472.0" fill="#94842c" stroke="#6a4a14" stroke-width="0.7" stroke-linejoin="miter"/><circle cx="464.5" cy="474.8" r="4.1" fill="#b4b434"/>
<text x="471.1" y="477.6">6:38am</text>
<polygon points="541.0,467.9 543.0,472.0 547.5,472.7 544.3,475.9 545.0,480.4 541.0,478.3 536.9,480.4 537.6,475.9 534.4,472.7 538.9,472.0" fill="#94842c" stroke="#6a4a14" stroke-width="0.7" stroke-linejoin="miter"/><circle cx="541.0" cy="474.8" r="4.1" fill="#b4b434"/>
<text x="547.6" y="477.6">6:37am</text>
<polygon points="617.3,467.9 619.4,472.0 623.9,472.7 620.7,475.9 621.4,480.4 617.3,478.3 613.3,480.4 614.0,475.9 610.8,472.7 615.3,472.0" fill="#94842c" stroke="#6a4a14" stroke-width="0.7" stroke-linejoin="miter"/><circle cx="617.3" cy="474.8" r="4.1" fill="#b4b434"/>
<text x="623.9" y="477.6">6:35am</text>
<polygon points="120.0,481.5 122.1,485.6 126.6,486.3 123.4,489.5 124.1,494.0 120.0,491.9 116.0,494.0 116.7,489.5 113.5,486.3 118.0,485.6" fill="#94842c" stroke="#6a4a14" stroke-width="0.7" stroke-linejoin="miter"/><circle cx="120.0" cy="488.4" r="4.1" fill="#dc3232"/>
<text x="126.6" y="492.6">6:34pm</text>
<polygon points="196.6,481.5 198.7,485.6 203.2,486.3 199.9,489.5 200.7,494.0 196.6,491.9 192.5,494.0 193.3,489.5 190.0,486.3 194.5,485.6" fill="#94842c" stroke="#6a4a14" stroke-width="0.7" stroke-linejoin="miter"/><circle cx="196.6" cy="488.4" r="4.1" fill="#dc3232"/>
<text x="203.2" y="492.6">6:35pm</text>
<polygon points="273.1,481.5 275.2,485.6 279.7,486.3 276.5,489.5 277.2,494.0 273.1,491.9 269.1,494.0 269.8,489.5 266.6,486.3 271.1,485.6" fill="#94842c" stroke="#6a4a14" stroke-width="0.7" stroke-linejoin="miter"/><circle cx="273.1" cy="488.4" r="4.1" fill="#dc3232"/>
<text x="279.7" y="492.6">6:36pm</text>
<polygon points="349.7,481.5 351.8,485.6 356.3,486.3 353.0,489.5 353.8,494.0 349.7,491.9 345.6,494.0 346.4,489.5 343.1,486.3 347.6,485.6" fill="#94842c" stroke="#6a4a14" stroke-width="0.7" stroke-linejoin="miter"/><circle cx="349.7" cy="488.4" r="4.1" fill="#dc3232"/>
<text x="356.3" y="492.6">6:37pm</text>
<polygon points="426.2,481.5 428.3,485.6 432.8,486.3 429.5,489.5 430.3,494.0 426.2,491.9 422.1,494.0 422.9,489.5 419.6,486.3 424.1,485.6" fill="#94842c" stroke="#6a4a14" stroke-width="0.7" stroke-linejoin="miter"/><circle cx="426.2" cy="488.4" r="4.1" fill="#dc3232"/>
<text x="432.8" y="492.6">6:37pm</text>
<polygon points="502.8,481.5 504.8,485.6 509.3,486.3 506.1,489.5 506.8,494.0 502.8,491.9 498.7,494.0 499.4,489.5 496.2,486.3 500.7,485.6" fill="#94842c" stroke="#6a4a14" stroke-width="0.7" stroke-linejoin="miter"/><circle cx="502.8" cy="488.4" r="4.1" fill="#dc3232"/>
<text x="509.4" y="492.6">6:38pm</text>
<polygon points="579.3,481.5 581.4,485.6 585.9,486.3 582.6,489.5 583.4,494.0 579.3,491.9 575.3,494.0 576.0,489.5 572.7,486.3 577.2,485.6" fill="#94842c" stroke="#6a4a14" stroke-width="0.7" stroke-linejoin="miter"/><circle cx="579.3" cy="488.4" r="4.1" fill="#dc3232"/>
<text x="585.9" y="492.6">6:39pm</text>
<polygon points="655.8,481.5 657.9,485.6 662.4,486.3 659.1,489.5 659.9,494.0 655.8,491.9 651.8,494.0 652.5,489.5 649.2,486.3 653.7,485.6" fill="#94842c" stroke="#6a4a14" stroke-width="0.7" stroke-linejoin="miter"/><circle cx="655.8" cy="488.4" r="4.1" fill="#dc3232"/>
<text x="662.4" y="492.6">6:39pm</text>
<circle cx="109.3" cy="501.7" r="4.8" fill="#ffffcc" stroke="#999" stroke-width="1"/>
<text x="115.9" y="506.2">3:11pm</text>
<circle cx="189.1" cy="501.7" r="4.8" fill="#ffffcc" stroke="#999" stroke-width="1"/>
<text x="195.7" y="506.2">4:13pm</text>
<circle cx="269.0" cy="501.7" r="4.8" fill="#ffffcc" stroke="#999" stroke-width="1"/>
<text x="275.6" y="506.2">5:18pm</text>
<circle cx="349.1" cy="501.7" r="4.8" fill="#ffffcc" stroke="#999" stroke-width="1"/>
<text x="355.7" y="506.2">6:25pm</text>
<circle cx="429.1" cy="501.7" r="4.8" fill="#ffffcc" stroke="#999" stroke-width="1"/>
<text x="435.7" y="506.2">7:32pm</text>
<circle cx="509.3" cy="501.7" r="4.8" fill="#ffffcc" stroke="#999" stroke-width="1"/>
<text x="515.9" y="506.2">8:41pm</text>
<circle cx="589.4" cy="501.7" r="4.8" fill="#ffffcc" stroke="#999" stroke-width="1"/>
<text x="596.0" y="506.2">9:49pm</text>
<circle cx="669.5" cy="501.7" r="4.8" fill="#ffffcc" stroke="#999" stroke-width="1"/>
<text x="676.1" y="506.2">10:57pm</text>
<circle cx="153.3" cy="515.3" r="4.8" fill="#c8c8b4" stroke="#8c8c8c" stroke-width="1"/>
<text x="159.9" y="518.6">5:00am</text>
<circle cx="232.1" cy="515.3" r="4.8" fill="#c8c8b4" stroke="#8c8c8c" stroke-width="1"/>
<text x="238.7" y="518.6">5:43am</text>
<circle cx="310.8" cy="515.3" r="4.8" fill="#c8c8b4" stroke="#8c8c8c" stroke-width="1"/>
<text x="317.4" y="518.6">6:24am</text>
<circle cx="389.4" cy="515.3" r="4.8" fill="#c8c8b4" stroke="#8c8c8c" stroke-width="1"/>
<text x="396.0" y="518.6">7:05am</text>
<circle cx="468.1" cy="515.3" r="4.8" fill="#c8c8b4" stroke="#8c8c8c" stroke-width="1"/>
<text x="474.7" y="518.6">7:46am</text>
<circle cx="546.8" cy="515.3" r="4.8" fill="#c8c8b4" stroke="#8c8c8c" stroke-width="1"/>
<text x="553.4" y="518.6">8:28am</text>
<circle cx="625.7" cy="515.3" r="4.8" fill="#c8c8b4" stroke="#8c8c8c" stroke-width="1"/>
<text x="632.3" y="518.6">9:12am</text>
<text x="312.6" y="532.8">Full Moon |</text><text x="360.4" y="532.8">9:05pm</text>
</g>
</svg>
</body></html>
